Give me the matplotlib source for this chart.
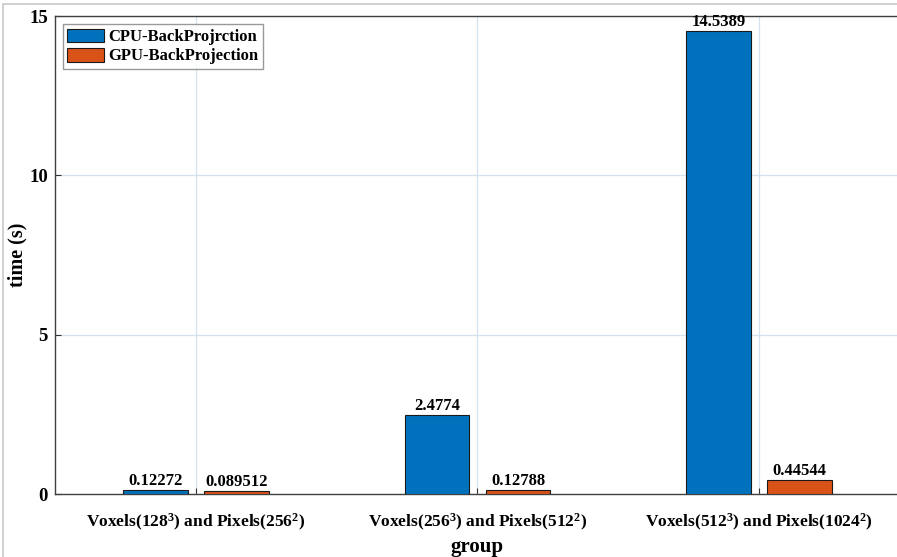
import numpy as np
import matplotlib
matplotlib.use('Agg')
from matplotlib import pyplot as plt
from matplotlib.patches import Rectangle

plt.rcParams['font.family'] = 'Liberation Serif'
plt.rcParams['font.weight'] = 'bold'
plt.rcParams['mathtext.fontset'] = 'custom'
plt.rcParams['mathtext.rm'] = 'Liberation Serif:bold'
plt.rcParams['mathtext.it'] = 'Liberation Serif:bold'
plt.rcParams['mathtext.bf'] = 'Liberation Serif:bold'

groups = ['Voxels(128$^3$) and Pixels(256$^2$)',
          'Voxels(256$^3$) and Pixels(512$^2$)',
          'Voxels(512$^3$) and Pixels(1024$^2$)']
cpu = [0.12272, 2.4774, 14.5389]
gpu = [0.089512, 0.12788, 0.44544]
cpu_txt = ['0.12272', '2.4774', '14.5389']
gpu_txt = ['0.089512', '0.12788', '0.44544']

fig = plt.figure(figsize=(8.97, 5.57), dpi=100)
fig.patches.append(Rectangle((0.003, -0.01), 1.1, 1.003, transform=fig.transFigure,
                             fill=False, edgecolor='#c8c8c8', lw=1.2))
ax = fig.add_axes([0.0613, 0.113, 0.942, 0.858])

x = np.arange(1, len(groups) + 1)
w = 0.23
off = 0.144
b1 = ax.bar(x - off, cpu, w, color='#0072BD', edgecolor='#1a1a1a', lw=0.8,
            label='CPU-BackProjrction', zorder=3)
b2 = ax.bar(x + off, gpu, w, color='#D95319', edgecolor='#1a1a1a', lw=0.8,
            label='GPU-BackProjection', zorder=3)
for r, t in zip(b1, cpu_txt):
    ax.text(r.get_x() + r.get_width() / 2, r.get_height() + 0.04, t,
            ha='center', va='bottom', fontsize=12, fontweight='bold', zorder=4)
for r, t in zip(b2, gpu_txt):
    ax.text(r.get_x() + r.get_width() / 2, r.get_height() + 0.04, t,
            ha='center', va='bottom', fontsize=12, fontweight='bold', zorder=4)

ax.set_xlim(0.5, 3.5)
ax.set_ylim(0, 15)
ax.set_xticks(x)
ax.set_xticklabels(groups, fontsize=12.5)
ax.set_yticks([0, 5, 10, 15])
ax.tick_params(axis='y', labelsize=13.5, direction='in', length=4, color='#333333', pad=5)
ax.tick_params(axis='x', direction='in', length=4, color='#333333', pad=13)
ax.grid(True, color='#d3e2f0', lw=0.9, zorder=0)
ax.set_axisbelow(True)
for s in ax.spines.values():
    s.set_color('#404040')
    s.set_linewidth(1.0)

ax.set_xlabel('group', fontsize=15, fontweight='bold', labelpad=3)
ax.set_ylabel('time (s)', fontsize=14.5, fontweight='bold', va='center')
ax.yaxis.set_label_coords(-0.044, 0.5)

leg = ax.legend(loc='upper left', fontsize=12, frameon=True, fancybox=False,
                borderpad=0.25, handlelength=2.2, handleheight=0.9,
                labelspacing=0.15, handletextpad=0.25, borderaxespad=0.5)
leg.get_frame().set_edgecolor('#808080')
leg.get_frame().set_linewidth(1.0)

fig.savefig('out.png', dpi=100)
